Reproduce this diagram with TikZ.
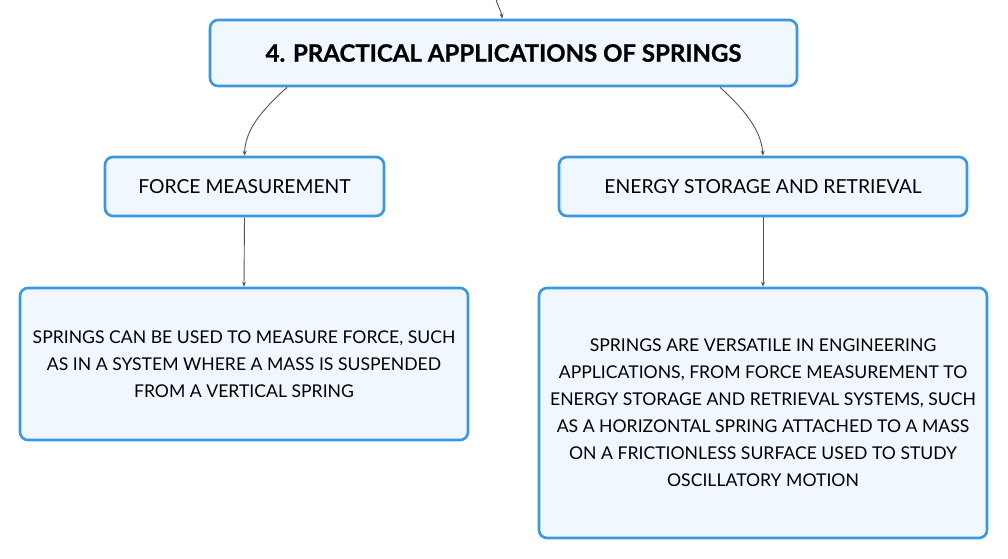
\documentclass[tikz,border=0pt]{standalone}
\usepackage{fontspec}
\setmainfont{Lato}
\newfontfamily\heavyfont{Lato}[BoldFeatures={FakeBold=0.8}]
\usetikzlibrary{arrows.meta}
\definecolor{bordblue}{RGB}{58,152,224}
\definecolor{boxfill}{RGB}{240,247,254}
\definecolor{linkgray}{RGB}{85,85,85}
\begin{document}
\begin{tikzpicture}[x=1pt,y=-1pt,
  box/.style={draw=bordblue, line width=2.6pt, fill=boxfill, rounded corners=8pt, inner sep=0pt, align=center, text=black},
  head/.style={font=\fontsize{19.3}{22}\selectfont},
  body/.style={font=\fontsize{17.6}{27}\selectfont},
  link/.style={draw=linkgray, line width=0.9pt, -{Stealth[length=5pt,width=4pt]}}]
\useasboundingbox (0,0) rectangle (1008,558);
\node[box, minimum width=587pt, minimum height=66pt, font=\fontsize{24}{27}\selectfont\heavyfont\bfseries] (title) at (503.5,53) {4. PRACTICAL APPLICATIONS OF SPRINGS};
\node[box, head, minimum width=279pt, minimum height=59pt] (force) at (244.5,186.5) {FORCE MEASUREMENT};
\node[box, head, minimum width=408pt, minimum height=59pt] (energy) at (763,186.5) {ENERGY STORAGE AND RETRIEVAL};
\node[box, body, minimum width=448pt, minimum height=152pt] (ftext) at (244,364) {SPRINGS CAN BE USED TO MEASURE FORCE, SUCH\\AS IN A SYSTEM WHERE A MASS IS SUSPENDED\\FROM A VERTICAL SPRING};
\node[box, body, minimum width=448pt, minimum height=250pt] (etext) at (763,413) {SPRINGS ARE VERSATILE IN ENGINEERING\\APPLICATIONS, FROM FORCE MEASUREMENT TO\\ENERGY STORAGE AND RETRIEVAL SYSTEMS, SUCH\\AS A HORIZONTAL SPRING ATTACHED TO A MASS\\ON A FRICTIONLESS SURFACE USED TO STUDY\\OSCILLATORY MOTION};
\coordinate (top) at (496,-1);
\draw[link] (top) to[out=-78,in=95] ([xshift=-1.5pt]title.north);
\draw[link] ([xshift=-216.5pt]title.south) .. controls ++(-25,23) and ++(1,-27) .. (force.north);
\draw[link] ([xshift=216.5pt]title.south) .. controls ++(22,20) and ++(-2,-27) .. (energy.north);
\draw[link] (force.south) -- (ftext.north);
\draw[link] (energy.south) -- (etext.north);
\end{tikzpicture}
\end{document}
